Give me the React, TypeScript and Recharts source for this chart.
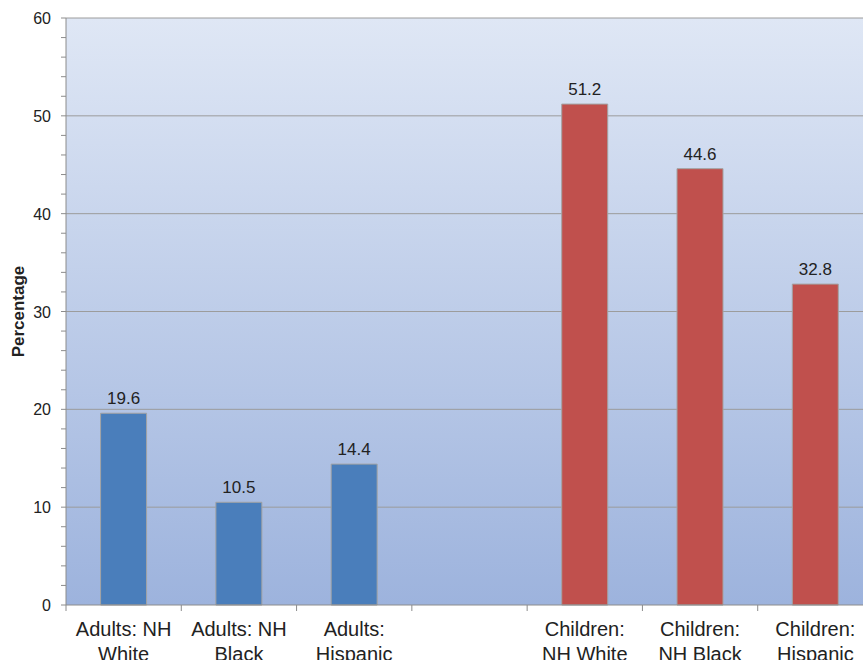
import { BarChart, Bar, XAxis, YAxis, CartesianGrid, LabelList, Label } from 'recharts';

// category labels, line breaks as in the original
const categories = [
    'Adults: NH\nWhite',
    'Adults: NH\nBlack',
    'Adults:\nHispanic',
    '',
    'Children:\nNH White',
    'Children:\nNH Black',
    'Children:\nHispanic',
];
const adultValues = [19.6, 10.5, 14.4, null, null, null, null];
const childValues = [null, null, null, null, 51.2, 44.6, 32.8];

const yTicks = [0, 2, 4, 6, 8, 10, 12, 14, 16, 18, 20, 22, 24, 26, 28, 30, 32, 34, 36, 38, 40, 42, 44, 46, 48, 50, 52, 54, 56, 58, 60];
const yLabelTicks = [0, 10, 20, 30, 40, 50, 60];

const data = categories.map((name, i) => ({
    name,
    adults: adultValues[i],
    children: childValues[i],
}));

const colors = {
    adults: '#4a7ebb',
    children: '#c0504d',
    outline: '#a3a3a3',
    axis: '#8c8c8c',
    text: '#222222',
};

const font = 'Liberation Sans, Arial, sans-serif';

function YTick(props: any) {
    const { x, y, payload } = props;
    if (!yLabelTicks.includes(payload.value)) return null;
    return (
        <text x={x} y={y} dy={6} textAnchor="end" fontSize={16} fontFamily={font} fill={colors.text}>
            {payload.value}
        </text>
    );
}

function XTick(props: any) {
    const { x, y, payload } = props;
    const half = payload.offset || 57.6;
    const lines = String(payload.value).split('\n');
    return (
        <g>
            <line x1={x - half} x2={x - half} y1={y} y2={y + 6} stroke={colors.axis} />
            <text textAnchor="middle" fontSize={20} fontFamily={font} fill={colors.text}>
                {lines.map((line, i) => (
                    <tspan key={i} x={x} y={y + 31 + i * 25}>{line}</tspan>
                ))}
            </text>
        </g>
    );
}

function valueLabel(props: any) {
    const { x, y, width, value } = props;
    if (value === null || value === undefined) return null;
    return (
        <text x={x + width / 2} y={y - 9} textAnchor="middle" fontSize={17} fontFamily={font} fill={colors.text}>
            {value}
        </text>
    );
}

export default function App() {
    return (
        <div style={{ position: 'absolute', left: 0, top: 0, width: 863, height: 660, overflow: 'hidden', background: '#fff' }}>
            <BarChart
                width={880}
                height={660}
                data={data}
                margin={{ top: 18, right: 7, bottom: 0, left: 6 }}
                barCategoryGap="30%"
            >
                <defs>
                    <linearGradient id="plotBg" x1="0" y1="0" x2="0" y2="1">
                        <stop offset="0%" stopColor="#dfe7f5" />
                        <stop offset="100%" stopColor="#9db3dd" />
                    </linearGradient>
                </defs>
                <CartesianGrid
                    fill="url(#plotBg)"
                    fillOpacity={1}
                    vertical={false}
                    horizontalValues={[10, 20, 30, 40, 50, 60]}
                    stroke="#9c9c9c"
                />
                <XAxis
                    dataKey="name"
                    height={55}
                    interval={0}
                    tickLine={false}
                    tickSize={0}
                    tickMargin={0}
                    axisLine={{ stroke: colors.axis }}
                    tick={<XTick />}
                />
                <YAxis
                    width={60}
                    domain={[0, 60]}
                    ticks={yTicks}
                    interval={0}
                    tickSize={5}
                    tickMargin={10}
                    axisLine={{ stroke: colors.axis }}
                    tickLine={{ stroke: colors.axis }}
                    tick={<YTick />}
                >
                    <Label
                        value="Percentage"
                        angle={-90}
                        position="insideLeft"
                        offset={12}
                        style={{ textAnchor: 'middle', fontSize: 17, fontWeight: 'bold', fontFamily: font, fill: colors.text }}
                    />
                </YAxis>
                <Bar dataKey="adults" stackId="a" fill={colors.adults} stroke={colors.outline} strokeWidth={1} isAnimationActive={false}>
                    <LabelList dataKey="adults" content={valueLabel} />
                </Bar>
                <Bar dataKey="children" stackId="a" fill={colors.children} stroke={colors.outline} strokeWidth={1} isAnimationActive={false}>
                    <LabelList dataKey="children" content={valueLabel} />
                </Bar>
            </BarChart>
        </div>
    );
}
